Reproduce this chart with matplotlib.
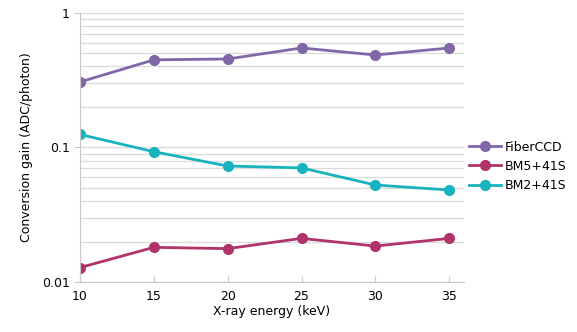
import matplotlib.pyplot as plt
from matplotlib.ticker import LogLocator, FixedLocator, NullFormatter

# X-ray energies (keV) and gain per detector
energia = [10, 15, 20, 25, 30, 35]
fiberccd = [0.307, 0.448, 0.455, 0.549, 0.487, 0.549]
bm5_41s = [0.0128, 0.0181, 0.0177, 0.0211, 0.0185, 0.0211]
bm2_41s = [0.125, 0.093, 0.0728, 0.0705, 0.0526, 0.0483]

cor_fiber = '#8166a8'
cor_bm5 = '#b0336a'
cor_bm2 = '#19b3bf'

fig = plt.figure(figsize=(5.77, 3.32), dpi=100)
ax = fig.add_axes([0.1386, 0.1506, 0.6655, 0.8104])

estilo = dict(marker='o', markersize=7, linewidth=2)
ax.plot(energia, fiberccd, color=cor_fiber, label='FiberCCD', **estilo)
ax.plot(energia, bm5_41s, color=cor_bm5, label='BM5+41S', **estilo)
ax.plot(energia, bm2_41s, color=cor_bm2, label='BM2+41S', **estilo)

ax.set_yscale('log')
ax.set_ylim(0.01, 1)
ax.set_xlim(10, 36)
ax.yaxis.set_major_locator(FixedLocator([0.01, 0.1, 1]))
ax.set_yticklabels(['0.01', '0.1', '1'])
ax.yaxis.set_minor_locator(LogLocator(base=10, subs=range(2, 10)))
ax.yaxis.set_minor_formatter(NullFormatter())
ax.set_xticks(energia)

# light horizontal grid at every minor decade step
ax.grid(True, axis='y', which='both', color='#dcdcdc', linewidth=1)
ax.set_axisbelow(True)

for lado in ['top', 'right']:
    ax.spines[lado].set_visible(False)
ax.spines['left'].set_color('#c8c8c8')
ax.spines['bottom'].set_color('#c8c8c8')
ax.tick_params(axis='y', which='major', length=4, color='#c8c8c8', labelsize=9)
ax.tick_params(axis='y', which='minor', length=0)
ax.tick_params(axis='x', direction='in', length=4, color='#c8c8c8', labelsize=9, pad=6)

ax.set_xlabel('X-ray energy (keV)', fontsize=9, labelpad=1)
ax.set_ylabel('Conversion gain (ADC/photon)', fontsize=9, labelpad=6)

ax.legend(loc='center left', bbox_to_anchor=(1.0, 0.43), frameon=False,
          fontsize=9, handlelength=2.6, handletextpad=0.3, labelspacing=0.5,
          borderaxespad=0.0)

fig.savefig('out.png', dpi=100)
